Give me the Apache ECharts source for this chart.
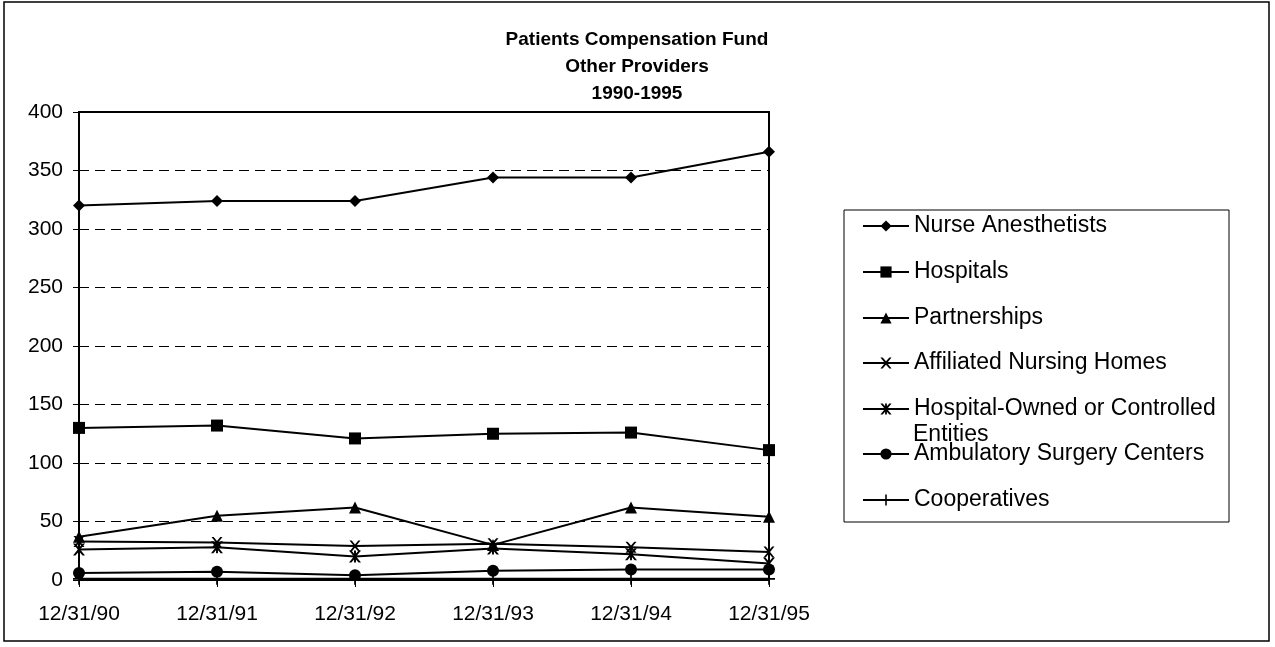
<!DOCTYPE html>
<html>
<head>
<meta charset="utf-8">
<title>Patients Compensation Fund - Other Providers</title>
<script src="https://cdn.jsdelivr.net/npm/echarts@6/dist/echarts.min.js"></script>
<style>
  html, body { margin: 0; padding: 0; background: #fff; }
  #chart { width: 1275px; height: 647px; }
</style>
</head>
<body>
<div id="chart"></div>
<script>
// values
const categories = ['12/31/90', '12/31/91', '12/31/92', '12/31/93', '12/31/94', '12/31/95'];
const nurseAnesthetists = [320, 324, 324, 344, 344, 366];
const hospitals = [130, 132, 121, 125, 126, 111];
const partnerships = [37, 55, 62, 30, 62, 54];
const affiliatedNursingHomes = [33, 32, 29, 31, 28, 24];
const hospitalOwned = [26, 28, 20, 27, 22, 14];
const ambulatorySurgery = [6, 7, 4, 8, 9, 9];
const cooperatives = [1, 1, 1, 1, 1, 1];
const yTicks = [0, 50, 100, 150, 200, 250, 300, 350, 400];

const FONT = '"Liberation Sans", Arial, sans-serif';

const X_MARK = 'path://M0,0 L2,0 L5,3.5 L8,0 L10,0 L6,5 L10,10 L8,10 L5,6.5 L2,10 L0,10 L4,5 Z';
const STAR_MARK = 'path://M0,0 L2,0 L5,3.5 L8,0 L10,0 L6,5 L10,10 L8,10 L5,6.5 L2,10 L0,10 L4,5 Z'
  + ' M4.2,0 L5.8,0 L5.8,10 L4.2,10 Z';
const PLUS_MARK = 'path://M4.3,0 L5.7,0 L5.7,4.3 L10,4.3 L10,5.7 L5.7,5.7 L5.7,10 L4.3,10 L4.3,5.7 L0,5.7 L0,4.3 L4.3,4.3 Z';

const seriesDefs = [
  { name: 'Nurse Anesthetists', data: nurseAnesthetists, symbol: 'diamond', size: 12 },
  { name: 'Hospitals', data: hospitals, symbol: 'rect', size: 12 },
  { name: 'Partnerships', data: partnerships, symbol: 'triangle', size: 12 },
  { name: 'Affiliated Nursing Homes', data: affiliatedNursingHomes, symbol: X_MARK, size: 11 },
  { name: 'Hospital-Owned or Controlled Entities', data: hospitalOwned, symbol: STAR_MARK, size: 12 },
  { name: 'Ambulatory Surgery Centers', data: ambulatorySurgery, symbol: 'circle', size: 12 },
  { name: 'Cooperatives', data: cooperatives, symbol: PLUS_MARK, size: 12 },
];

// legend row centres (px) inside the legend box
const legendRows = [224, 270, 316, 361, 407, 452, 498];
const LEGEND_FONT = 23;

function buildLegends() {
  return seriesDefs.map((s, i) => ({
    orient: 'vertical',
    left: 862,
    top: legendRows[i] - 11,
    padding: 0,
    itemWidth: 46,
    itemHeight: 14,
    itemGap: 5,
    selectedMode: false,
    data: [s.name],
    // the original wraps this long label; its second line is drawn below
    formatter: (name) => name.replace(' Entities', ''),
    textStyle: {
      color: '#000',
      fontFamily: FONT,
      fontSize: LEGEND_FONT,
      lineHeight: 26,
    },
  }));
}

function buildSeries() {
  return seriesDefs.map((s) => ({
    name: s.name,
    type: 'line',
    data: s.data,
    symbol: s.symbol,
    symbolSize: s.size,
    showAllSymbol: true,
    lineStyle: { color: '#000', width: 2 },
    itemStyle: { color: '#000' },
    emphasis: { disabled: true },
    animation: false,
  }));
}

function buildOption() {
  return {
    backgroundColor: '#fff',
    animation: false,
    title: {
      text: 'Patients Compensation Fund\nOther Providers\n1990-1995',
      left: 632,
      top: 21,
      textAlign: 'center',
      textStyle: {
        color: '#000',
        fontFamily: FONT,
        fontSize: 19,
        fontWeight: 'bold',
        lineHeight: 27,
      },
    },
    grid: {
      left: 79,
      right: 506,
      top: 112,
      bottom: 67,
      show: true,
      borderColor: '#000',
      borderWidth: 2,
      backgroundColor: 'transparent',
    },
    xAxis: {
      type: 'category',
      data: categories,
      boundaryGap: false,
      axisLine: { lineStyle: { color: '#000', width: 2 } },
      axisTick: { show: true, inside: false, length: 7, lineStyle: { color: '#000' } },
      axisLabel: { color: '#000', fontFamily: FONT, fontSize: 21, margin: 24 },
      splitLine: { show: false },
    },
    yAxis: {
      type: 'value',
      min: yTicks[0],
      max: yTicks[yTicks.length - 1],
      interval: yTicks[1] - yTicks[0],
      axisLine: { show: true, lineStyle: { color: '#000', width: 2 } },
      axisTick: { show: true, length: 6, lineStyle: { color: '#000' } },
      axisLabel: { color: '#000', fontFamily: FONT, fontSize: 21, margin: 16 },
      splitLine: {
        show: true,
        lineStyle: { color: '#000', width: 1, type: [10, 6] },
      },
    },
    legend: buildLegends(),
    graphic: [
      {
        type: 'rect',
        shape: { x: 4, y: 2, width: 1265, height: 639 },
        style: { fill: 'none', stroke: '#000', lineWidth: 1.5 },
        silent: true,
        z: -1,
      },
      {
        type: 'rect',
        shape: { x: 844, y: 210, width: 385, height: 312 },
        style: { fill: 'none', stroke: '#000', lineWidth: 1 },
        silent: true,
      },
      {
        type: 'text',
        left: 913,
        top: 433 - 10,
        style: {
          text: 'Entities',
          fill: '#000',
          font: LEGEND_FONT + 'px ' + FONT,
        },
        silent: true,
      },
    ],
    series: buildSeries(),
  };
}

const chart = echarts.init(document.getElementById('chart'), null, { renderer: 'canvas' });
chart.setOption(buildOption());
</script>
</body>
</html>
